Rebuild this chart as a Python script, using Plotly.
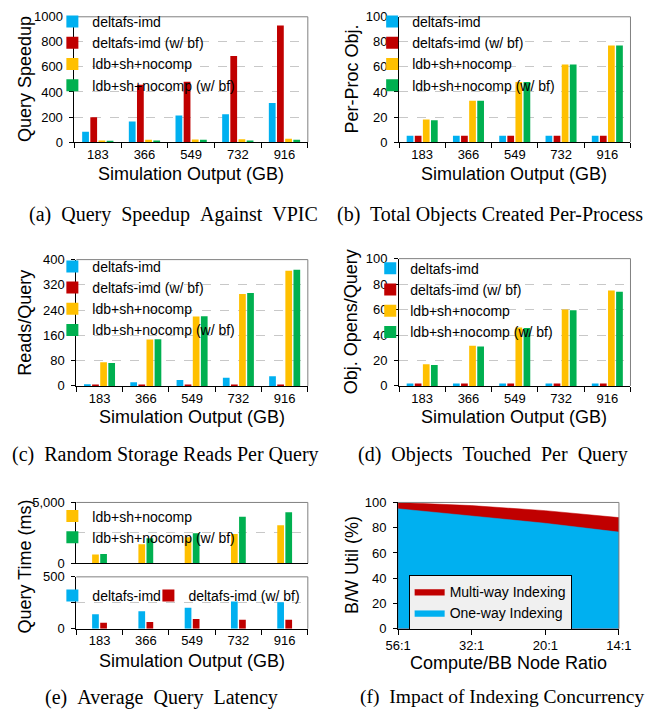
import plotly.graph_objects as go

# ---------------- data ----------------
sizes = ["183", "366", "549", "732", "916"]

speedup_imd = [83, 164, 213, 223, 312]
speedup_imd_bf = [198, 458, 482, 687, 930]
speedup_ldb = [13, 18, 21, 23, 26]
speedup_ldb_bf = [10, 13, 19, 13, 18]

objs_imd = [5, 5, 5, 5, 5]
objs_imd_bf = [5, 5, 5, 5, 5]
objs_ldb = [18, 33, 48, 62, 77]
objs_ldb_bf = [17.5, 33, 48, 62, 77]

reads_imd = [5, 12, 19, 26, 31]
reads_imd_bf = [1, 1, 1, 3, 4]
reads_ldb = [75, 147, 220, 291, 365]
reads_ldb_bf = [73, 148, 221, 294, 368]

opens_imd = [2, 2, 2, 2, 2]
opens_imd_bf = [2, 2, 2, 2, 2]
opens_ldb = [17, 31.5, 46, 60, 75]
opens_ldb_bf = [16.5, 31, 45.5, 59.5, 74]

latency_ldb = [720, 1550, 2140, 2400, 3130]
latency_ldb_bf = [750, 2060, 2460, 3820, 4200]
latency_imd = [140, 169, 203, 262, 256]
latency_imd_bf = [59, 66, 94, 87, 87]

ratios = ["56:1", "32:1", "20:1", "14:1"]
util_one_way = [95, 89, 83.5, 76.5]
util_multi_way = [100, 97.5, 93.5, 88]

names4 = ["deltafs-imd", "deltafs-imd (w/ bf)", "ldb+sh+nocomp", "ldb+sh+nocomp (w/ bf)"]
colors4 = ["#00B0F0", "#C00000", "#FFC000", "#00B050"]

# ---------------- layout helpers ----------------
W, H = 655, 719
SANS = "Liberation Sans, Arial, sans-serif"
SERIF = "Liberation Serif, Times New Roman, serif"


def xd(l, r):
    return [l / W, r / W]


def yd(t, b):
    return [1 - b / H, 1 - t / H]


def px(v):
    return v / W


def py(v):
    return 1 - v / H


fig = go.Figure()

BW = 0.145
OFF4 = [-0.335, -0.16, 0.015, 0.19]
OFF2 = [-0.16, 0.015]


def add_bars(series, ax, legends, offsets, colors, names):
    for s, off, c, n, lg in zip(series, offsets, colors, names, legends):
        fig.add_trace(go.Bar(
            x=sizes, y=s, name=n, marker=dict(color=c, line=dict(width=0)),
            width=BW, offset=off, xaxis="x" + ax, yaxis="y" + ax,
            legend=lg, showlegend=True,
        ))


add_bars([speedup_imd, speedup_imd_bf, speedup_ldb, speedup_ldb_bf], "", ["legend"] * 4, OFF4, colors4, names4)
add_bars([objs_imd, objs_imd_bf, objs_ldb, objs_ldb_bf], "2", ["legend2"] * 4, OFF4, colors4, names4)
add_bars([reads_imd, reads_imd_bf, reads_ldb, reads_ldb_bf], "3", ["legend3"] * 4, OFF4, colors4, names4)
add_bars([opens_imd, opens_imd_bf, opens_ldb, opens_ldb_bf], "4", ["legend4"] * 4, OFF4, colors4, names4)
add_bars([latency_ldb, latency_ldb_bf], "5", ["legend5"] * 2, OFF2, colors4[2:], names4[2:])
add_bars([latency_imd, latency_imd_bf], "6", ["legend6", "legend8"], OFF2, colors4[:2], names4[:2])

fig.add_trace(go.Scatter(
    x=ratios, y=util_multi_way, name="Multi-way Indexing", mode="lines",
    line=dict(color="#C00000", width=0.5), fill="tozeroy", fillcolor="#C00000",
    xaxis="x7", yaxis="y7", legend="legend7"))
fig.add_trace(go.Scatter(
    x=ratios, y=util_one_way, name="One-way Indexing", mode="lines",
    line=dict(color="#00B0F0", width=0.5), fill="tozeroy", fillcolor="#00B0F0",
    xaxis="x7", yaxis="y7", legend="legend7"))

GRID = dict(showgrid=True, gridcolor="#c8c8c8", griddash="dash", gridwidth=1,
            zeroline=False, showline=True, linecolor="black", linewidth=1,
            ticks="outside", ticklen=4, tickcolor="black", ticklabelstandoff=4,
            tickfont=dict(family=SANS, size=13, color="black"), fixedrange=True)
XCAT = dict(showgrid=False, zeroline=False, showline=True, linecolor="black", linewidth=1,
            ticks="outside", tickson="boundaries", ticklen=5, tickcolor="black",
            tickfont=dict(family=SANS, size=13, color="black"), type="category",
            range=[-0.5, 4.5], fixedrange=True)

panels = {
    "": ((64, 307), (10, 138), [0, 1000], list(range(0, 1001, 200)), None),
    "2": ((402, 643), (10, 138), [0, 100], list(range(0, 101, 20)), None),
    "3": ((66, 307), (258, 387), [0, 400], list(range(0, 401, 80)), None),
    "4": ((402, 643), (257, 387), [0, 100], list(range(0, 101, 20)), None),
    "5": ((66, 307), (506, 568), [0, 5000], [0, 2500, 5000], ["0", "", "5,000"]),
    "6": ((66, 307), (582, 635), [0, 500], [0, 250, 500], ["0", "", "500"]),
}

lay = {}
for k, (xr, yr, rng, tv, tt) in panels.items():
    xa = dict(XCAT, domain=xd(*xr), anchor="y" + k)
    if k == "5":
        xa.update(showticklabels=False, ticks="")
    ya = dict(GRID, domain=yd(*yr), anchor="x" + k, range=rng, tickvals=tv)
    if tt:
        ya["ticktext"] = tt
    lay["xaxis" + k] = xa
    lay["yaxis" + k] = ya

lay["xaxis7"] = dict(domain=xd(401, 631), anchor="y7", type="category", range=[0, 3],
                     showgrid=False, zeroline=False, showline=True, linecolor="black",
                     ticks="outside", ticklen=5, tickcolor="black",
                     tickfont=dict(family=SANS, size=13, color="black"), fixedrange=True)
lay["yaxis7"] = dict(domain=yd(506, 635), anchor="x7", range=[0, 100],
                     tickvals=list(range(0, 101, 20)), showgrid=False, zeroline=False,
                     showline=True, linecolor="black", ticks="outside", ticklen=4,
                     ticklabelstandoff=4,
                     tickcolor="black", tickfont=dict(family=SANS, size=13, color="black"),
                     fixedrange=True)

LEG = dict(bgcolor="rgba(0,0,0,0)", borderwidth=0, font=dict(family=SANS, size=14, color="black"),
           xanchor="left", yanchor="top", itemclick=False, itemdoubleclick=False,
           tracegroupgap=0)
lay["legend"] = dict(LEG, x=px(41), y=py(-1))
lay["legend2"] = dict(LEG, x=px(374), y=py(-1))
lay["legend3"] = dict(LEG, x=px(41), y=py(249))
lay["legend4"] = dict(LEG, x=px(372), y=py(251))
lay["legend5"] = dict(LEG, x=px(41), y=py(504))
lay["legend6"] = dict(LEG, x=px(41), y=py(585))
lay["legend8"] = dict(LEG, x=px(141), y=py(585))
lay["legend7"] = dict(LEG, x=px(412), y=py(580), bgcolor="#f0f0f0", bordercolor="black",
                      borderwidth=1)

fig.update_layout(**lay)

# frame: top and right borders in gray
shapes = []
frames = [((64, 307), (10, 138)), ((402, 643), (10, 138)), ((66, 307), (258, 387)),
          ((402, 643), (257, 387)), ((66, 307), (506, 568)), ((66, 307), (582, 635)),
          ((401, 631), (506, 635))]
for (l, r), (t, b) in frames:
    shapes.append(dict(type="line", xref="paper", yref="paper", x0=px(l), x1=px(r), y0=py(t), y1=py(t),
                       line=dict(color="#808080", width=1)))
    shapes.append(dict(type="line", xref="paper", yref="paper", x0=px(r), x1=px(r), y0=py(t), y1=py(b),
                       line=dict(color="#808080", width=1)))

annotations = []


def ann(text, x, y, size, family=SANS, angle=0):
    annotations.append(dict(text=text, x=px(x), y=py(y), xref="paper", yref="paper",
                            showarrow=False, textangle=angle, xanchor="center", yanchor="middle",
                            font=dict(family=family, size=size, color="black")))


# axis titles
ann("Query Speedup", 13, 73, 18, angle=-90)
ann("Simulation Output (GB)", 185, 171, 18)
ann("Per-Proc Obj.", 353, 73, 18, angle=-90)
ann("Simulation Output (GB)", 522, 171, 18)
ann("Reads/Query", 13, 322, 18, angle=-90)
ann("Simulation Output (GB)", 186, 419, 18)
ann("Obj. Opens/Query", 352, 322, 18, angle=-90)
ann("Simulation Output (GB)", 522, 419, 18)
ann("Query Time (ms)", 13, 571, 18, angle=-90)
ann("Simulation Output (GB)", 186, 668, 18)
ann("B/W Util (%)", 353, 570, 18, angle=-90)
ann("Compute/BB Node Ratio", 516, 670, 18)

# captions
NB = "\u00a0"
ann("(a)" + NB * 2 + "Query" + NB * 2 + "Speedup" + NB * 2 + "Against" + NB * 2 + "VPIC", 167, 212, 20, SERIF)
ann("(b)" + NB + " Total Objects Created Per-Process", 497, 212, 20, SERIF)
ann("(c)" + NB + " Random Storage Reads Per Query", 159, 457, 20, SERIF)
ann("(d)" + NB * 2 + "Objects" + NB * 2 + "Touched" + NB + " Per" + NB + " Query", 500, 457, 20, SERIF)
ann("(e)" + NB * 2 + "Average" + NB * 2 + "Query" + NB * 2 + "Latency", 155, 705, 20, SERIF)
ann("(f)" + NB + " Impact of Indexing Concurrency", 510, 705, 19.5, SERIF)

fig.update_layout(
    width=W, height=H, margin=dict(l=0, r=0, t=0, b=0),
    paper_bgcolor="white", plot_bgcolor="white",
    barmode="overlay", shapes=shapes, annotations=annotations,
    font=dict(family=SANS, color="black"),
)

fig.write_html("out.html", config={"displayModeBar": False},
               post_script="document.body.style.margin='0';document.body.style.padding='0';")
